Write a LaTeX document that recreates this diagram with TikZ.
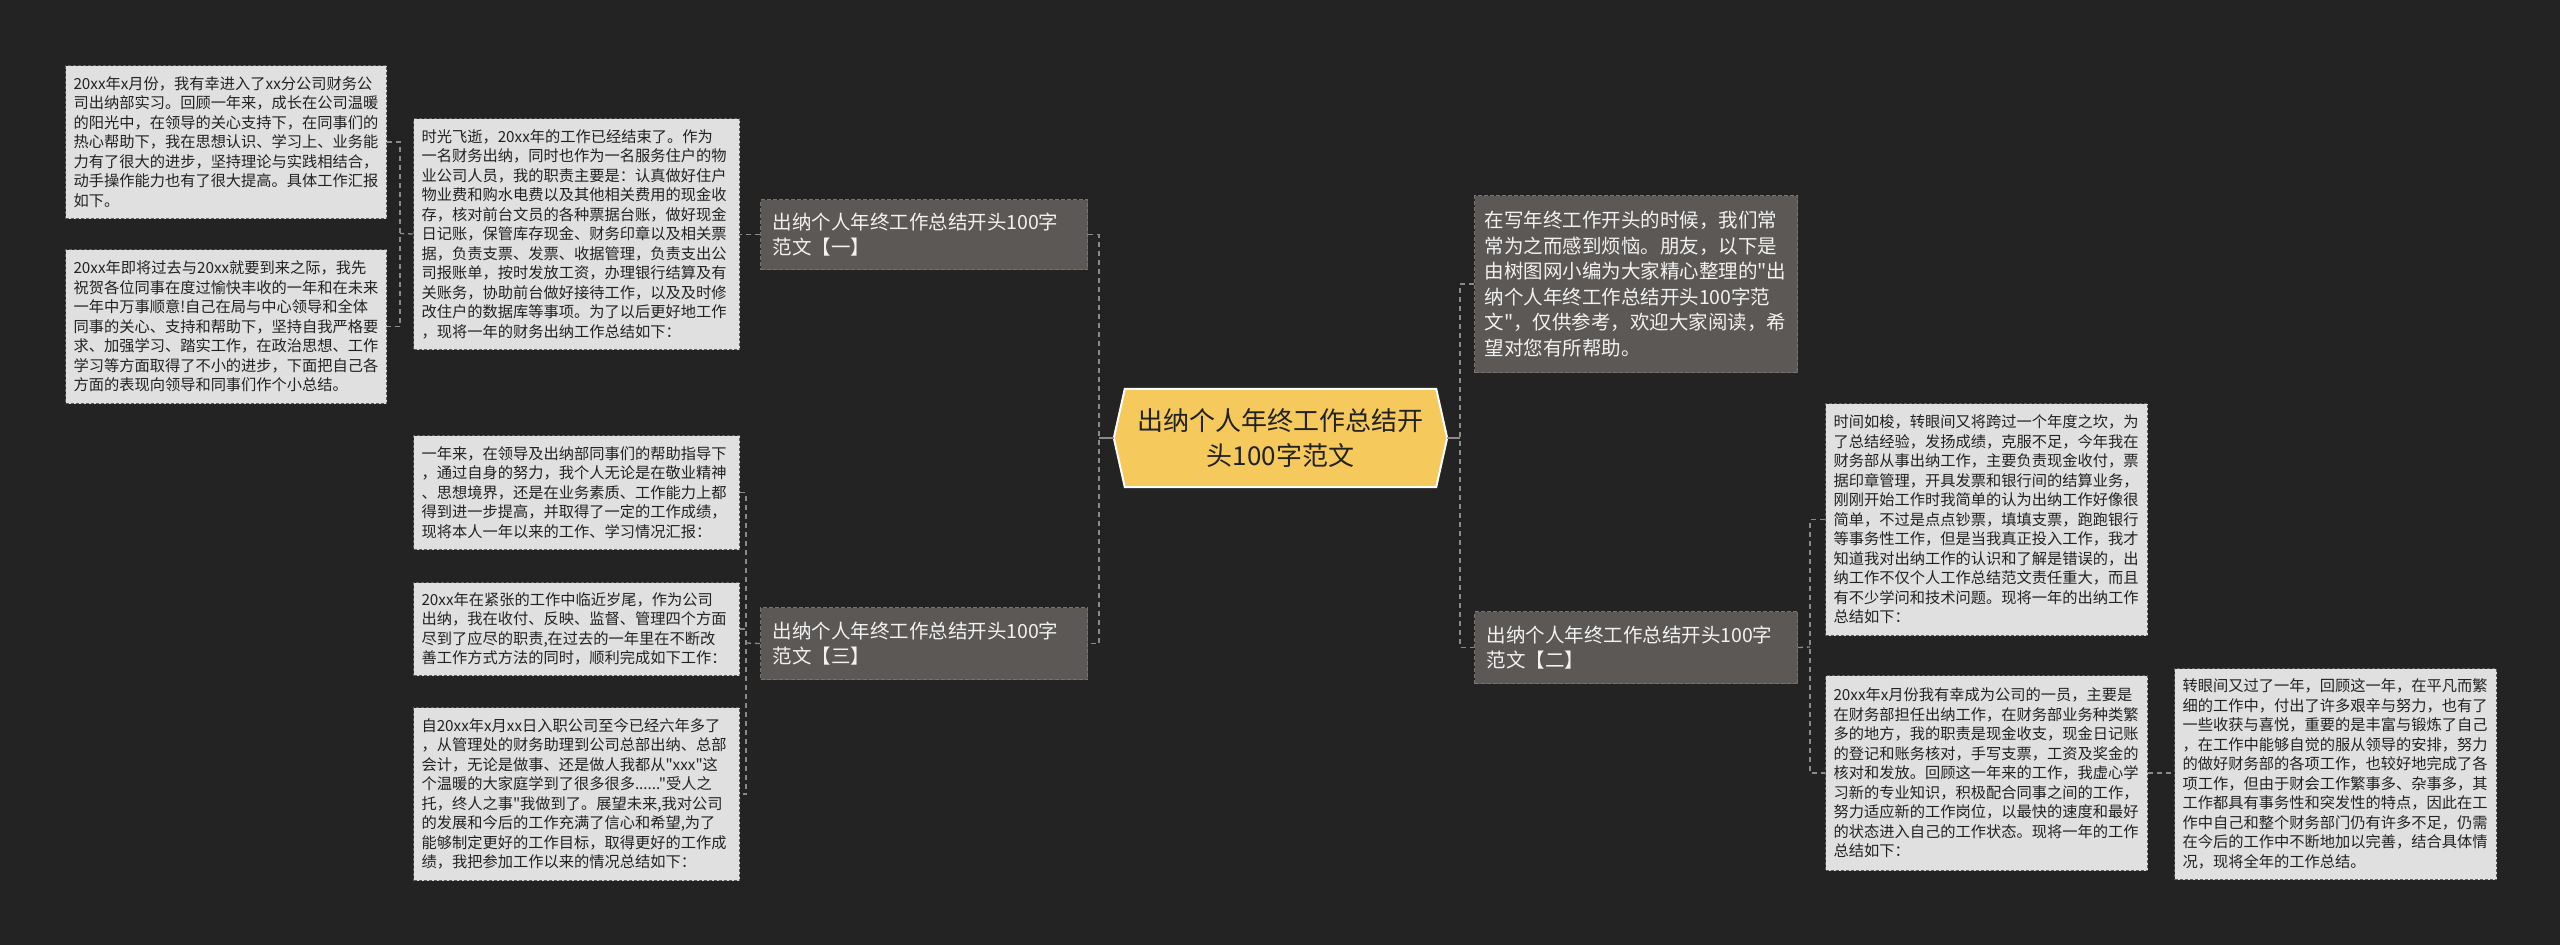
\documentclass[tikz,border=0pt]{standalone}
\usepackage{fontspec}
\newfontfamily\cjk{Noto Sans CJK SC}
\definecolor{bgcol}{HTML}{232323}
\definecolor{leaffill}{HTML}{E0E0E0}
\definecolor{leafborder}{HTML}{5E5E5E}
\definecolor{branchfill}{HTML}{5B5856}
\definecolor{branchborder}{HTML}{767371}
\definecolor{centerfill}{HTML}{F5C95C}
\definecolor{darktext}{HTML}{222222}
\definecolor{lighttext}{HTML}{F2F2F2}
\definecolor{conncol}{HTML}{8A8A8A}
\pgfdeclarelayer{bglayer}
\pgfdeclarelayer{hexlayer}
\pgfsetlayers{bglayer,hexlayer,main}
\begin{document}
\begin{tikzpicture}[x=1pt,y=-1pt,
  leaf/.style={draw=leafborder, fill=leaffill, line width=1pt, dash pattern=on 3pt off 2pt,
    inner xsep=8pt, inner ysep=4pt, align=left, anchor=north west, text=darktext,
    font=\cjk\fontsize{15.25pt}{19.5pt}\selectfont},
  branch/.style={draw=branchborder, fill=branchfill, line width=1pt, dash pattern=on 4pt off 2pt,
    inner xsep=12pt, inner ysep=4pt, align=left, anchor=north west, text=lighttext,
    font=\cjk\fontsize{19.5pt}{25.5pt}\selectfont},
  centerbox/.style={minimum width=333pt, minimum height=98pt, inner sep=0pt, align=center,
    text=darktext, font=\cjk\fontsize{26pt}{35pt}\selectfont},
  conn/.style={draw=conncol, line width=1.3pt, dash pattern=on 5pt off 4pt},
  stub/.style={draw=conncol, line width=2pt}
]
\begin{pgfonlayer}{bglayer}
\fill[bgcol] (0,0) rectangle (2560,945);
\end{pgfonlayer}
\useasboundingbox (0,0) rectangle (2560,945);

% center
\node[centerbox] (C) at (1280.5,438) {出纳个人年终工作总结开\\头100字范文};
\begin{pgfonlayer}{hexlayer}
\filldraw[fill=centerfill, draw=white, line width=2pt]
  (C.west) -- ([xshift=11pt]C.north west) -- ([xshift=-11pt]C.north east) -- (C.east)
  -- ([xshift=-11pt]C.south east) -- ([xshift=11pt]C.south west) -- cycle;
\end{pgfonlayer}

% branches
\node[branch, text width=303pt, minimum height=70pt] (B1) at (760,199) {出纳个人年终工作总结开头100字\\范文【一】};
\node[branch, text width=303pt, minimum height=72pt] (B3) at (760,607) {出纳个人年终工作总结开头100字\\范文【三】};
\node[branch, text width=303pt, minimum height=177pt, inner xsep=10pt] (B0) at (1474,195) {在写年终工作开头的时候，我们常\\常为之而感到烦恼。朋友，以下是\\由树图网小编为大家精心整理的"出\\纳个人年终工作总结开头100字范\\文"，仅供参考，欢迎大家阅读，希\\望对您有所帮助。};
\node[branch, text width=299pt, minimum height=72pt] (B2) at (1474,611) {出纳个人年终工作总结开头100字\\范文【二】};

% left leaves
\node[leaf, text width=305pt, minimum height=153pt] (L1) at (65,65) {20xx年x月份，我有幸进入了xx分公司财务公\\司出纳部实习。回顾一年来，成长在公司温暖\\的阳光中，在领导的关心支持下，在同事们的\\热心帮助下，我在思想认识、学习上、业务能\\力有了很大的进步，坚持理论与实践相结合，\\动手操作能力也有了很大提高。具体工作汇报\\如下。};
\node[leaf, text width=305pt, minimum height=154pt] (L2) at (65,249) {20xx年即将过去与20xx就要到来之际，我先\\祝贺各位同事在度过愉快丰收的一年和在未来\\一年中万事顺意!自己在局与中心领导和全体\\同事的关心、支持和帮助下，坚持自我严格要\\求、加强学习、踏实工作，在政治思想、工作\\学习等方面取得了不小的进步，下面把自己各\\方面的表现向领导和同事们作个小总结。};
\node[leaf, text width=310pt, minimum height=231pt] (M1) at (413,118) {时光飞逝，20xx年的工作已经结束了。作为\\一名财务出纳，同时也作为一名服务住户的物\\业公司人员，我的职责主要是：认真做好住户\\物业费和购水电费以及其他相关费用的现金收\\存，核对前台文员的各种票据台账，做好现金\\日记账，保管库存现金、财务印章以及相关票\\据，负责支票、发票、收据管理，负责支出公\\司报账单，按时发放工资，办理银行结算及有\\关账务，协助前台做好接待工作，以及及时修\\改住户的数据库等事项。为了以后更好地工作\\，现将一年的财务出纳工作总结如下：};
\node[leaf, text width=310pt, minimum height=114pt] (M2) at (413,435) {一年来，在领导及出纳部同事们的帮助指导下\\，通过自身的努力，我个人无论是在敬业精神\\、思想境界，还是在业务素质、工作能力上都\\得到进一步提高，并取得了一定的工作成绩，\\现将本人一年以来的工作、学习情况汇报：};
\node[leaf, text width=310pt, minimum height=93pt] (M3) at (413,582) {20xx年在紧张的工作中临近岁尾，作为公司\\出纳，我在收付、反映、监督、管理四个方面\\尽到了应尽的职责,在过去的一年里在不断改\\善工作方式方法的同时，顺利完成如下工作：};
\node[leaf, text width=310pt, minimum height=173pt] (M4) at (413,707) {自20xx年x月xx日入职公司至今已经六年多了\\，从管理处的财务助理到公司总部出纳、总部\\会计，无论是做事、还是做人我都从"xxx"这\\个温暖的大家庭学到了很多很多......"受人之\\托，终人之事"我做到了。展望未来,我对公司\\的发展和今后的工作充满了信心和希望,为了\\能够制定更好的工作目标，取得更好的工作成\\绩，我把参加工作以来的情况总结如下：};

% right leaves
\node[leaf, text width=306pt, minimum height=232pt] (R1) at (1825,403) {时间如梭，转眼间又将跨过一个年度之坎，为\\了总结经验，发扬成绩，克服不足，今年我在\\财务部从事出纳工作，主要负责现金收付，票\\据印章管理，开具发票和银行间的结算业务，\\刚刚开始工作时我简单的认为出纳工作好像很\\简单，不过是点点钞票，填填支票，跑跑银行\\等事务性工作，但是当我真正投入工作，我才\\知道我对出纳工作的认识和了解是错误的，出\\纳工作不仅个人工作总结范文责任重大，而且\\有不少学问和技术问题。现将一年的出纳工作\\总结如下：};
\node[leaf, text width=306pt, minimum height=195pt] (R2) at (1825,675) {20xx年x月份我有幸成为公司的一员，主要是\\在财务部担任出纳工作，在财务部业务种类繁\\多的地方，我的职责是现金收支，现金日记账\\的登记和账务核对，手写支票，工资及奖金的\\核对和发放。回顾这一年来的工作，我虚心学\\习新的专业知识，积极配合同事之间的工作，\\努力适应新的工作岗位，以最快的速度和最好\\的状态进入自己的工作状态。现将一年的工作\\总结如下：};
\node[leaf, text width=306pt, minimum height=211pt] (R3) at (2174,668) {转眼间又过了一年，回顾这一年，在平凡而繁\\细的工作中，付出了许多艰辛与努力，也有了\\一些收获与喜悦，重要的是丰富与锻炼了自己\\，在工作中能够自觉的服从领导的安排，努力\\的做好财务部的各项工作，也较好地完成了各\\项工作，但由于财会工作繁事多、杂事多，其\\工作都具有事务性和突发性的特点，因此在工\\作中自己和整个财务部门仍有许多不足，仍需\\在今后的工作中不断地加以完善，结合具体情\\况，现将全年的工作总结。};

% connectors
\coordinate (jC) at (1099,438);
\coordinate (jR) at (1460,438);
\coordinate (j2) at (1810,647);
\coordinate (jM1) at (400,233.5);
\coordinate (jB3) at (746,643);

\draw[stub] (C.west) -- (jC);
\draw[conn] (B1.east) -| (jC) |- (B3.east);
\draw[stub] (C.east) -- (jR);
\draw[conn] (B0.west) -| (jR) |- (B2.west);

\draw[conn] (B2.east) -- (j2);
\draw[conn] (R1.west) -| (j2) |- (R2.west);
\draw[conn] (R2.east) -- (R2.east -| R3.west);

\draw[conn] (B1.west) -- (B1.west -| M1.east);
\draw[conn] (M1.west) -- (jM1);
\draw[conn] (L1.east) -| (jM1) |- (L2.east);

\draw[conn] (B3.west) -- (jB3);
\draw[conn] (M2.east) -| (jB3) |- (M4.east);
\draw[conn] (M3.east) -- (M3.east -| jB3);
\end{tikzpicture}
\end{document}
